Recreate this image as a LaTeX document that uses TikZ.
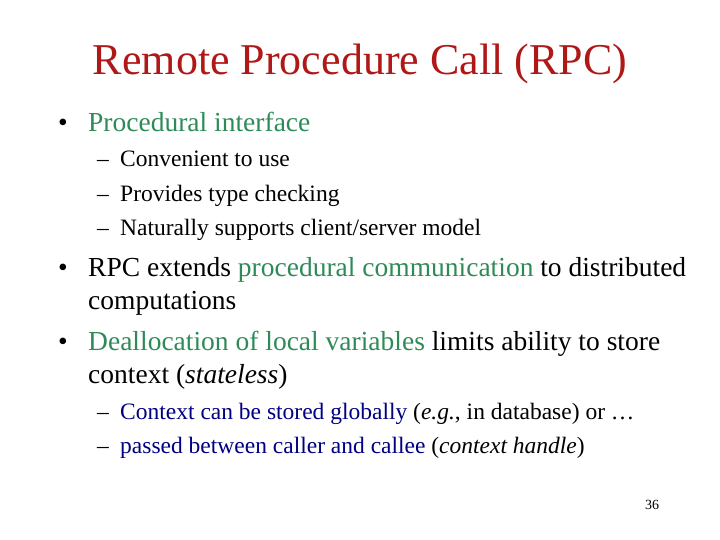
\documentclass[tikz,border=0pt]{standalone}
\usepackage{fontspec}
\setmainfont{Liberation Serif}
\definecolor{ttl}{HTML}{B01818}
\definecolor{grn}{HTML}{2E8B57}
\definecolor{blu}{HTML}{000080}
\begin{document}
\begin{tikzpicture}[x=1pt,y=1pt,
  t/.style={anchor=base west,inner sep=0pt},
  big/.style={t,font=\fontsize{27.5}{32}\selectfont},
  sm/.style={t,font=\fontsize{23.5}{28}\selectfont}]
\useasboundingbox (0,0) rectangle (720,-540);
\node[anchor=base,inner sep=0pt,font=\fontsize{44}{50}\selectfont,text=ttl] (title) at (360,-75) {Remote Procedure Call (RPC)};
\node[big] (b1) at (58,-132) {•};
\node[big] (t1) at (88,-132) {\color{grn}Procedural interface};
\node[sm] (d1) at (97,-167) {–};
\node[sm] (s1) at (120,-167) {Convenient to use};
\node[sm] (d2) at (97,-202) {–};
\node[sm] (s2) at (120,-202) {Provides type checking};
\node[sm] (d3) at (97,-236) {–};
\node[sm] (s3) at (120,-236) {Naturally supports client/server model};
\node[big] (b2) at (58,-276) {•};
\node[big] (t2) at (88,-276) {RPC extends \textcolor{grn}{procedural communication} to distributed};
\node[big] (t2b) at (88,-309) {computations};
\node[big] (b3) at (58,-350) {•};
\node[big] (t3) at (88,-350) {\textcolor{grn}{Deallocation of local variables} limits ability to store};
\node[big] (t3b) at (88,-383) {context (\textit{stateless})};
\node[sm] (d4) at (97,-419) {–};
\node[sm,text=blu] (s4) at (120,-419) {Context can be stored globally \textcolor{black}{(\textit{e.g.}, in database) or …}};
\node[sm] (d5) at (97,-453) {–};
\node[sm,text=blu] (s5) at (120,-453) {passed between caller and callee \textcolor{black}{(\textit{context handle})}};
\node[t,font=\fontsize{14}{16}\selectfont] (pg) at (645,-509) {36};
\end{tikzpicture}
\end{document}
